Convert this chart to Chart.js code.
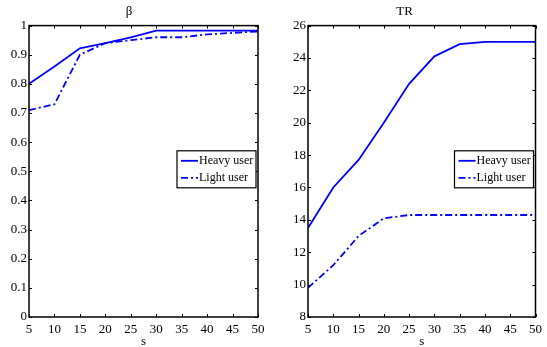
<!DOCTYPE html>
<html>
<head>
<meta charset="utf-8">
<script src="https://cdn.jsdelivr.net/npm/chart.js@4"></script>
<style>
  body { margin: 0; background: #fff; }
  .box { position: absolute; top: 0; height: 347px; }
  #left { left: 0; width: 270px; }
  #right { left: 270px; width: 277px; }
</style>
</head>
<body>
<div class="box" id="left"><canvas id="beta_chart"></canvas></div>
<div class="box" id="right"><canvas id="tr_chart"></canvas></div>
<script>
const sValues = [5, 10, 15, 20, 25, 30, 35, 40, 45, 50];
const betaHeavy = [0.80, 0.86, 0.922, 0.94, 0.96, 0.983, 0.983, 0.983, 0.983, 0.983];
const betaLight = [0.71, 0.73, 0.90, 0.94, 0.95, 0.96, 0.96, 0.97, 0.975, 0.98];
const trHeavy = [13.5, 16.0, 17.7, 20.0, 22.4, 24.1, 24.85, 25.0, 25.0, 25.0];
const trLight = [9.8, 11.2, 13.0, 14.1, 14.3, 14.3, 14.3, 14.3, 14.3, 14.3];
const seriesNames = ["Heavy user", "Light user"];

const FONT = "'Liberation Serif', 'Times New Roman', serif";
const BLUE = "#0000ff";
const DASH_DOT = [7, 3, 2, 3];

// matlab-ish frame: box plus inward ticks on all four sides, and a boxed legend
const framePlugin = {
  id: "frame",
  afterDatasetsDraw(chart) {
    const { ctx, chartArea: a, scales } = chart;
    ctx.save();
    ctx.strokeStyle = "#000";
    ctx.lineWidth = 1.5;
    ctx.strokeRect(a.left, a.top, a.right - a.left, a.bottom - a.top);
    ctx.lineWidth = 1;
    ctx.beginPath();
    scales.x.ticks.forEach((t) => {
      const px = Math.round(scales.x.getPixelForValue(t.value)) + 0.5;
      ctx.moveTo(px, a.bottom); ctx.lineTo(px, a.bottom - 3);
      ctx.moveTo(px, a.top); ctx.lineTo(px, a.top + 3);
    });
    scales.y.ticks.forEach((t) => {
      const py = Math.round(scales.y.getPixelForValue(t.value)) + 0.5;
      ctx.moveTo(a.left, py); ctx.lineTo(a.left + 3, py);
      ctx.moveTo(a.right, py); ctx.lineTo(a.right - 3, py);
    });
    ctx.stroke();

    // legend
    const w = 79, h = 37;
    const lx = a.right - w - 2;
    const ly = (a.top + a.bottom) / 2 - h / 2 - 2;
    ctx.fillStyle = "#fff";
    ctx.fillRect(lx, ly, w, h);
    ctx.lineWidth = 1.2;
    ctx.strokeStyle = "#000";
    ctx.strokeRect(lx, ly, w, h);
    ctx.font = "12px " + FONT;
    ctx.textBaseline = "middle";
    chart.data.datasets.forEach((ds, i) => {
      const yy = ly + 10 + i * 17;
      ctx.strokeStyle = BLUE;
      ctx.lineWidth = 1.8;
      ctx.setLineDash(ds.borderDash || []);
      ctx.beginPath();
      ctx.moveTo(lx + 4, yy);
      ctx.lineTo(lx + 21, yy);
      ctx.stroke();
      ctx.setLineDash([]);
      ctx.fillStyle = "#000";
      ctx.fillText(ds.label, lx + 22, yy);
    });
    ctx.restore();
  },
};

const makeChart = (id, title, heavy, light, yMin, yMax, yStep, yWidth, padRight) => {
  const cxt = document.getElementById(id).getContext("2d");
  return new Chart(cxt, {
    type: "line",
    data: {
      labels: sValues,
      datasets: [
        {
          label: seriesNames[0],
          data: sValues.map((s, i) => ({ x: s, y: heavy[i] })),
          borderColor: BLUE,
          borderWidth: 1.8,
          pointRadius: 0,
        },
        {
          label: seriesNames[1],
          data: sValues.map((s, i) => ({ x: s, y: light[i] })),
          borderColor: BLUE,
          borderWidth: 1.8,
          borderDash: DASH_DOT,
          pointRadius: 0,
        },
      ],
    },
    options: {
      responsive: true,
      maintainAspectRatio: false,
      animation: false,
      layout: { padding: { top: 0, left: 0, right: padRight, bottom: 0 } },
      plugins: {
        legend: { display: false },
        tooltip: { enabled: false },
        title: {
          display: true,
          text: title,
          color: "#000",
          font: { family: FONT, size: 13, weight: "normal" },
          padding: { top: 4, bottom: 6 },
        },
      },
      scales: {
        x: {
          type: "linear",
          min: 5,
          max: 50,
          ticks: { stepSize: 5, color: "#000", font: { family: FONT, size: 13 }, padding: 5, maxRotation: 0 },
          grid: { display: false, drawTicks: false },
          border: { display: false },
          title: { display: true, text: "s", color: "#000", font: { family: FONT, size: 13 }, padding: { top: 0, bottom: -2 } },
          afterFit: (scale) => { scale.height = 30; },
        },
        y: {
          min: yMin,
          max: yMax,
          ticks: {
            stepSize: yStep,
            color: "#000",
            font: { family: FONT, size: 13 },
            padding: 2,
            callback: (v) => String(Math.round(v * 10) / 10),
          },
          grid: { display: false, drawTicks: false },
          border: { display: false },
          afterFit: (scale) => { scale.width = yWidth; },
        },
      },
    },
    plugins: [framePlugin],
  });
};

makeChart("beta_chart", "β", betaHeavy, betaLight, 0, 1, 0.1, 29, 12);
makeChart("tr_chart", "TR", trHeavy, trLight, 8, 26, 2, 38, 8);
</script>
</body>
</html>
